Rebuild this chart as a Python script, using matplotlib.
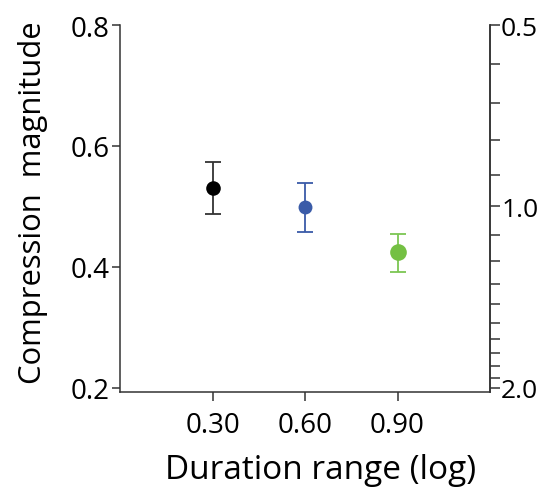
import numpy as np
import matplotlib
matplotlib.use('Agg')
import matplotlib.pyplot as plt
from matplotlib.ticker import FixedLocator, NullFormatter

plt.rcParams['font.family'] = ['Open Sans', 'DejaVu Sans']

# data
duration_range = [0.30, 0.60, 0.90]
compression = [0.531, 0.499, 0.424]
err_upper = [0.574, 0.539, 0.455]
err_lower = [0.488, 0.458, 0.392]
point_colors = ['#000000', '#3a5ba8', '#74c043']
bar_colors = ['#333333', '#3a5ba8', '#7cc653']
marker_sizes = [10.5, 10, 12]

x_ticks = [0.30, 0.60, 0.90]
left_ticks = [0.2, 0.4, 0.6, 0.8]
right_major = [0.5, 1.0, 2.0]
right_minor = [0.6, 0.7, 0.8, 0.9, 1.1, 1.2, 1.3, 1.4, 1.5, 1.6, 1.7, 1.8, 1.9]

spine_color = '#333333'


def to_compression(r):
    # right-hand scale r = sqrt((1 - c) / c)  ->  c = 1 / (1 + r^2)
    return 1.0 / (1.0 + np.asarray(r) ** 2)


fig = plt.figure(figsize=(5.45, 4.89), dpi=100)
ax = fig.add_axes([0.2202, 0.1963, 0.6789, 0.7505])

for x, y, lo, hi, pc, bc, ms in zip(duration_range, compression, err_lower, err_upper,
                                     point_colors, bar_colors, marker_sizes):
    ax.errorbar([x], [y], yerr=[[y - lo], [hi - y]], fmt='none', ecolor=bc,
                elinewidth=1.3, capsize=5.8, capthick=1.3, zorder=2)
    ax.plot([x], [y], 'o', color=pc, markersize=ms, markeredgewidth=0, zorder=3)

ax.set_xlim(0, 1.2)
ax.set_ylim(0.193, 0.8)
ax.set_xticks(x_ticks)
ax.set_xticklabels([f'{v:.2f}' for v in x_ticks])
ax.set_yticks(left_ticks)
ax.set_yticklabels([f'{v:.1f}' for v in left_ticks])

ax.spines['top'].set_visible(False)
for s in ['left', 'bottom', 'right']:
    ax.spines[s].set_color(spine_color)
    ax.spines[s].set_linewidth(1.1)

ax.tick_params(axis='both', direction='out', length=6, width=1.1, color=spine_color,
               labelsize=20, pad=1.5)
ax.tick_params(axis='x', length=6.5, pad=7)

ax.set_xlabel('Duration range (log)', fontsize=24, labelpad=6)
ax.xaxis.set_label_coords(0.542, -0.165)
ax.set_ylabel('Compression  magnitude', fontsize=22.3)
ax.yaxis.set_label_coords(-0.195, 0.519)

# right-hand axis
ax2 = ax.twinx()
ax2.set_ylim(ax.get_ylim())
ax2.spines['top'].set_visible(False)
ax2.spines['left'].set_visible(False)
ax2.spines['bottom'].set_visible(False)
ax2.spines['right'].set_color(spine_color)
ax2.spines['right'].set_linewidth(1.1)
ax2.yaxis.set_major_locator(FixedLocator(to_compression(right_major)))
ax2.yaxis.set_minor_locator(FixedLocator(to_compression(right_minor)))
ax2.set_yticklabels([f'{v:.1f}' for v in right_major])
ax2.yaxis.set_minor_formatter(NullFormatter())
ax2.tick_params(axis='y', which='both', direction='out', length=7, width=1.1,
                color=spine_color, labelsize=19, pad=1)

fig.savefig('out.png', dpi=100)
